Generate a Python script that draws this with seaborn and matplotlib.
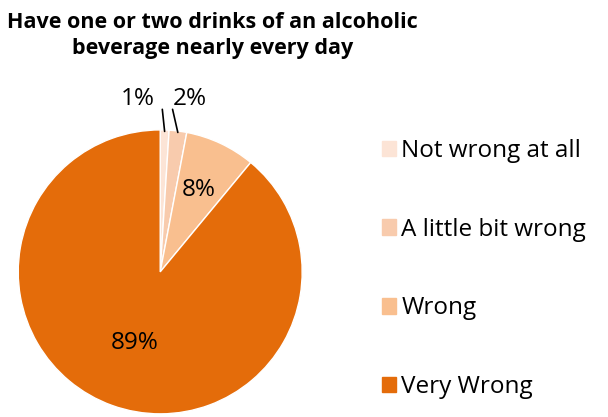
import numpy as np
import matplotlib
matplotlib.use("Agg")
import matplotlib.pyplot as plt
import seaborn as sns

categories = ["Not wrong at all", "A little bit wrong", "Wrong", "Very Wrong"]
values = [1, 2, 8, 89]
colors = ["#FCE4D6", "#F8CBAD", "#F9BF8F", "#E46C0A"]

sns.set_style("white")
plt.rcParams["font.family"] = ["Open Sans", "DejaVu Sans"]
plt.rcParams["text.color"] = "black"

fig = plt.figure(figsize=(6.08, 4.17), dpi=100)
ax = fig.add_axes([0.030, 0.0075, 0.467, 0.681])

wedges, _ = ax.pie(values, colors=colors, startangle=90, counterclock=False,
                   wedgeprops=dict(edgecolor="white", linewidth=1))
ax.set_aspect("equal")
ax.set_xlim(-1, 1)
ax.set_ylim(-1, 1)

total = sum(values)
cum = np.cumsum([0] + values)
# inside labels: radius as fraction of pie radius
inside = {2: 0.64, 3: 0.53}
# outside labels: x position of the text
outside = {0: -0.16, 1: 0.21}
for i, v in enumerate(values):
    mid = (cum[i] + v / 2) / total * 2 * np.pi
    x, y = np.sin(mid), np.cos(mid)
    lab = f"{v}%"
    if i in inside:
        r = inside[i]
        ax.text(x * r, y * r, lab, ha="center", va="center", fontsize=17.5)
    else:
        tx = outside[i]
        ax.text(tx, 1.22, lab, ha="center", va="center", fontsize=17.5, clip_on=False)
        ax.plot([x * 0.99, x * 0.99 + (0.007 if i == 0 else 0.056) - x * 0.99 * 0.75],
                [y * 0.99, 1.145], color="black", lw=1.2, clip_on=False)

handles = [plt.Rectangle((0, 0), 1, 1, color=c) for c in colors]
fig.legend(handles, categories, loc="upper left", bbox_to_anchor=(0.612, 0.69),
           frameon=False, fontsize=17.5, handlelength=0.6, handleheight=0.6,
           handletextpad=0.2, labelspacing=2.25, borderaxespad=0)

fig.text(0.35, 0.915, "Have one or two drinks of an alcoholic\nbeverage nearly every day",
         ha="center", va="center", fontsize=15.5, fontweight="bold", linespacing=1.35)

fig.savefig("out.png", dpi=100)
